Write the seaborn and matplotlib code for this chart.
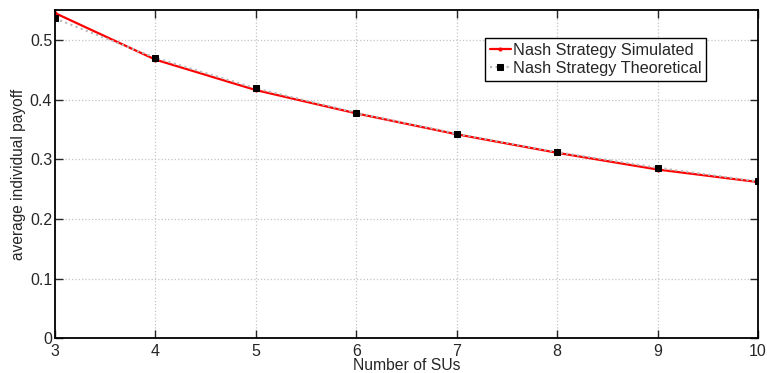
import matplotlib
matplotlib.use("Agg")
import matplotlib.pyplot as plt
import seaborn as sns
import pandas as pd

# Number of secondary users and average individual payoff
num_sus = [3, 4, 5, 6, 7, 8, 9, 10]
payoff_simulated = [0.545, 0.467, 0.416, 0.377, 0.342, 0.311, 0.283, 0.262]
payoff_theoretical = [0.536, 0.470, 0.419, 0.378, 0.343, 0.312, 0.286, 0.263]

sns.set_style("ticks")
plt.rcParams["font.family"] = ["Liberation Sans", "DejaVu Sans"]

df_sim = pd.DataFrame({"n": num_sus, "payoff": payoff_simulated})
df_theo = pd.DataFrame({"n": num_sus, "payoff": payoff_theoretical})

fig = plt.figure(figsize=(7.67, 3.73), dpi=100)
ax = fig.add_axes([0.0717, 0.0925, 0.9166, 0.8805])

sns.lineplot(data=df_theo, x="n", y="payoff", ax=ax, color="#b8b8b8",
             linestyle=":", linewidth=1.5, marker="s", markersize=4.6,
             markerfacecolor="black", markeredgecolor="black",
             label="Nash Strategy Theoretical", zorder=3)
sns.lineplot(data=df_sim, x="n", y="payoff", ax=ax, color="red",
             linewidth=1.6, marker="o", markersize=2.2,
             markerfacecolor="red", markeredgecolor="red",
             label="Nash Strategy Simulated", zorder=2)

ax.set_xlim(3, 10)
ax.set_ylim(0, 0.55)
ax.set_xticks(range(3, 11))
ax.set_yticks([0, 0.1, 0.2, 0.3, 0.4, 0.5])
ax.set_yticklabels(["0", "0.1", "0.2", "0.3", "0.4", "0.5"])
ax.grid(True, color="#c4c4c4", linestyle=":", linewidth=0.9)
ax.tick_params(direction="in", length=6, width=1.0, labelsize=11.5,
               top=True, right=True, pad=2)
ax.tick_params(axis="x", pad=4)
for s in ax.spines.values():
    s.set_visible(True)
    s.set_linewidth(1.3)
    s.set_color("black")

ax.set_xlabel("Number of SUs", fontsize=11.3, labelpad=-1)
ax.set_ylabel("average individual payoff", fontsize=11.2, labelpad=3)

handles, labels = ax.get_legend_handles_labels()
order = [1, 0]
leg = ax.legend([handles[i] for i in order], [labels[i] for i in order],
                loc="upper left", bbox_to_anchor=(0.612, 0.915),
                fontsize=11.7, frameon=True, fancybox=False,
                edgecolor="black", framealpha=1, borderpad=0.28,
                handlelength=1.3, handletextpad=0.1, labelspacing=0.22,
                borderaxespad=0)
leg.get_frame().set_linewidth(1.0)

fig.savefig("out.png", dpi=100)
